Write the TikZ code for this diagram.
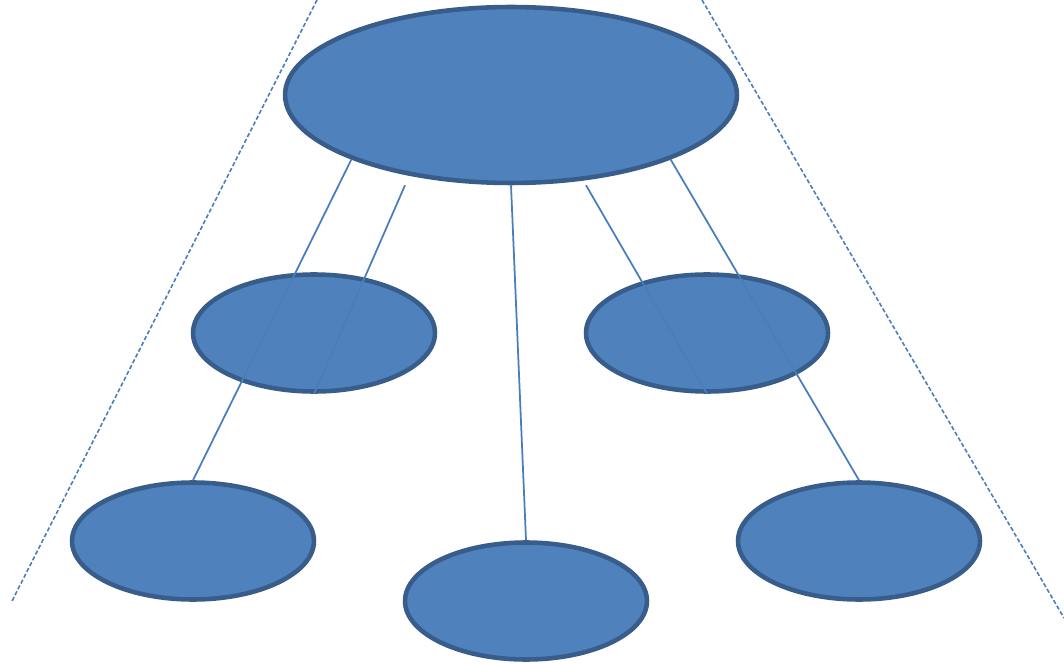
\documentclass[tikz,border=0pt]{standalone}
\usetikzlibrary{shapes.geometric}
\definecolor{bubblefill}{HTML}{4F81BD}
\definecolor{bubbleedge}{HTML}{385D8A}
\definecolor{linkblue}{HTML}{4A7EBB}

\begin{document}
\begin{tikzpicture}[
      x=0.02cm,y=-0.02cm,
      link/.style={draw=linkblue,line width=1pt},
      guide/.style={draw=linkblue,line width=.9pt,dash pattern=on 2.4pt off 1.3pt},
      bubble/.style={ellipse,draw=bubbleedge,fill=bubblefill,line width=2.6pt,
        inner sep=0pt,minimum width=4.84cm,minimum height=2.34cm},
      root/.style={bubble,minimum width=9.04cm,minimum height=3.52cm}]
    \useasboundingbox (0,0) rectangle (1064,665);
    \node[root]   (top) at (511,95) {};
    \node[bubble] (ml)  at (314,333) {};
    \node[bubble] (mr)  at (707,333) {};
    \node[bubble] (bl)  at (193,541) {};
    \node[bubble] (bc)  at (526,601) {};
    \node[bubble] (br)  at (859,541) {};

    \coordinate (g1a) at (317,0);
    \coordinate (g1b) at (12,601);
    \coordinate (g2a) at (702,0);
    \coordinate (g2b) at (1064,618);

    \draw[link] (top.202) -- (bl.north);
    \draw[link] (top.south) ++(-106,0) -- (ml.south);
    \draw[link] (top.south) -- (bc.north);
    \draw[link] (top.south) ++(75,0) -- (mr.south);
    \draw[link] (top.338) -- (br.north);

    \draw[guide] (g1a) -- (g1b);
    \draw[guide] (g2a) -- (g2b);
  \end{tikzpicture}
\end{document}
